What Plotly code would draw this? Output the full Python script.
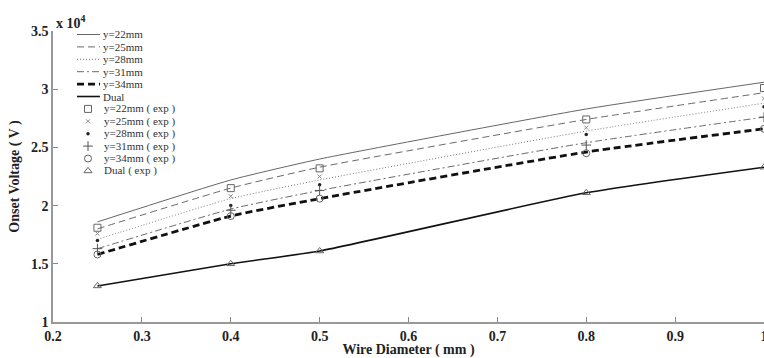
import plotly.graph_objects as go

# ---------------- data ----------------
diameter = [0.25, 0.4, 0.5, 0.8, 1.0]

# model curves (V)
v22 = [18600, 22200, 24000, 28300, 30600]
v25 = [18000, 21500, 23300, 27400, 29700]
v28 = [17100, 20600, 22200, 26400, 28800]
v31 = [16300, 19700, 21300, 25400, 27600]
v34 = [15800, 19100, 20600, 24600, 26600]
vdual = [13100, 15000, 16100, 21100, 23300]

# experimental points (V)
e22 = [18100, 21500, 23200, 27400, 30100]
e25 = [17600, 20800, 22500, 26700, 29200]
e28 = [17000, 20000, 21800, 26100, 28500]
e31 = [16300, 19600, 21300, 25200, 27600]
e34 = [15800, 19100, 20600, 24500, 26600]
edual = [13100, 15000, 16100, 21100, 23300]

line_names = ["y=22mm", "y=25mm", "y=28mm", "y=31mm", "y=34mm", "Dual"]
exp_names = ["y=22mm ( exp )", "y=25mm ( exp )", "y=28mm ( exp )",
             "y=31mm ( exp )", "y=34mm ( exp )", "Dual ( exp )"]

y_tickvals = [10000, 15000, 20000, 25000, 30000, 35000]
y_ticktext = ["1", "1.5", "2", "2.5", "3", "3.5"]
x_tickvals = [0.2, 0.3, 0.4, 0.5, 0.6, 0.7, 0.8, 0.9, 1.0]
x_ticktext = ["0.2", "0.3", "0.4", "0.5", "0.6", "0.7", "0.8", "0.9", "1"]

# ---------------- styles ----------------
line_series = [v22, v25, v28, v31, v34, vdual]
line_styles = [
    dict(color="#666666", width=1, dash="solid"),
    dict(color="#6a6a6a", width=1, dash="7px,4px"),
    dict(color="#777777", width=1, dash="1px,2px"),
    dict(color="#6a6a6a", width=1, dash="7px,3px,2px,3px"),
    dict(color="#111111", width=2.8, dash="7px,4px"),
    dict(color="#111111", width=1.6, dash="solid"),
]
exp_series = [e22, e25, e28, e31, e34, edual]
exp_markers = [
    dict(symbol="square-open", size=7, color="#666666", line=dict(width=1)),
    dict(symbol="x-thin-open", size=4, color="#888888", line=dict(width=1, color="#888888")),
    dict(symbol="circle", size=3.5, color="#222222"),
    dict(symbol="cross-thin-open", size=7, color="#555555", line=dict(width=1, color="#555555")),
    dict(symbol="circle-open", size=7, color="#666666", line=dict(width=1)),
    dict(symbol="triangle-up-open", size=7, color="#666666", line=dict(width=1)),
]

FONT = "Liberation Serif, Times New Roman, serif"
W, H = 764, 358
L, R, T, B = 53, 0, 31, 36

fig = go.Figure()
for ys, st, nm in zip(line_series, line_styles, line_names):
    fig.add_trace(go.Scatter(x=diameter, y=ys, mode="lines", name=nm,
                             line=dict(shape="spline", smoothing=0.5, **st),
                             showlegend=False, hoverinfo="skip"))
for ys, mk, nm in zip(exp_series, exp_markers, exp_names):
    fig.add_trace(go.Scatter(x=diameter, y=ys, mode="markers", name=nm,
                             marker=mk, showlegend=False))

# ---------------- custom compact legend ----------------
plot_w = W - L - R
plot_h = H - T - B
row0_py, row_step = 34.5, 12.4


def px_to_paper(px, py):
    return (px - L) / plot_w, (H - B - py) / plot_h


shapes = []
annotations = []
for i, (nm, st) in enumerate(zip(line_names, line_styles)):
    py = row0_py + i * row_step
    x0, y0 = px_to_paper(77, py)
    x1, _ = px_to_paper(100, py)
    shapes.append(dict(type="line", xref="paper", yref="paper", x0=x0, x1=x1, y0=y0, y1=y0,
                       line=dict(color=st["color"], width=st["width"], dash=st["dash"])))
    tx, _ = px_to_paper(101, py)
    annotations.append(dict(xref="paper", yref="paper", x=tx, y=y0, text=nm, showarrow=False,
                            xanchor="left", yanchor="middle",
                            font=dict(family=FONT, size=11, color="#333333")))

leg_x, leg_y = [], []
for i, nm in enumerate(exp_names):
    py = row0_py + (i + len(line_names)) * row_step
    mx, my = px_to_paper(88, py)
    leg_x.append(mx)
    leg_y.append(my)
    tx, _ = px_to_paper(102, py)
    annotations.append(dict(xref="paper", yref="paper", x=tx, y=my, text=nm, showarrow=False,
                            xanchor="left", yanchor="middle",
                            font=dict(family=FONT, size=11, color="#333333")))
for j, mk in enumerate(exp_markers):
    fig.add_trace(go.Scatter(x=[leg_x[j]], y=[leg_y[j]], mode="markers", marker=mk,
                             xaxis="x2", yaxis="y2", showlegend=False, hoverinfo="skip",
                             cliponaxis=False))

# multiplier label
annotations.append(dict(xref="paper", yref="paper", x=px_to_paper(54, 0)[0], y=px_to_paper(0, 22)[1],
                        text="<b>x 10<sup>4</sup></b>", showarrow=False, xanchor="left",
                        yanchor="middle", font=dict(family=FONT, size=14, color="#222222")))

fig.update_layout(
    width=W, height=H,
    margin=dict(l=L, r=R, t=T, b=B),
    plot_bgcolor="white", paper_bgcolor="white",
    showlegend=False,
    shapes=shapes, annotations=annotations,
    xaxis=dict(range=[0.2, 1.0], tickvals=x_tickvals, ticktext=x_ticktext,
               ticks="inside", ticklen=5, tickcolor="#888888", showgrid=False, zeroline=False,
               showline=True, linecolor="#999999", linewidth=1.5, automargin=False,
               ticklabeloverflow="allow",
               tickfont=dict(family=FONT, size=14, color="#222222", weight="bold"),
               title=dict(text="<b>Wire Diameter ( mm )</b>", standoff=2,
                          font=dict(family=FONT, size=14, color="#222222"))),
    yaxis=dict(range=[10000, 35000], tickvals=y_tickvals, ticktext=y_ticktext,
               ticks="inside", ticklen=5, tickcolor="#888888", showgrid=False, zeroline=False,
               showline=True, linecolor="#999999", linewidth=1.5, automargin=False,
               ticklabeloverflow="allow",
               tickfont=dict(family=FONT, size=14, color="#222222", weight="bold"),
               title=dict(text="<b>Onset Voltage ( V )</b>", standoff=8,
                          font=dict(family=FONT, size=14, color="#222222"))),
    xaxis2=dict(range=[0, 1], overlaying="x", visible=False, fixedrange=True),
    yaxis2=dict(range=[0, 1], overlaying="y", visible=False, fixedrange=True),
)

fig.write_html("out.html")
